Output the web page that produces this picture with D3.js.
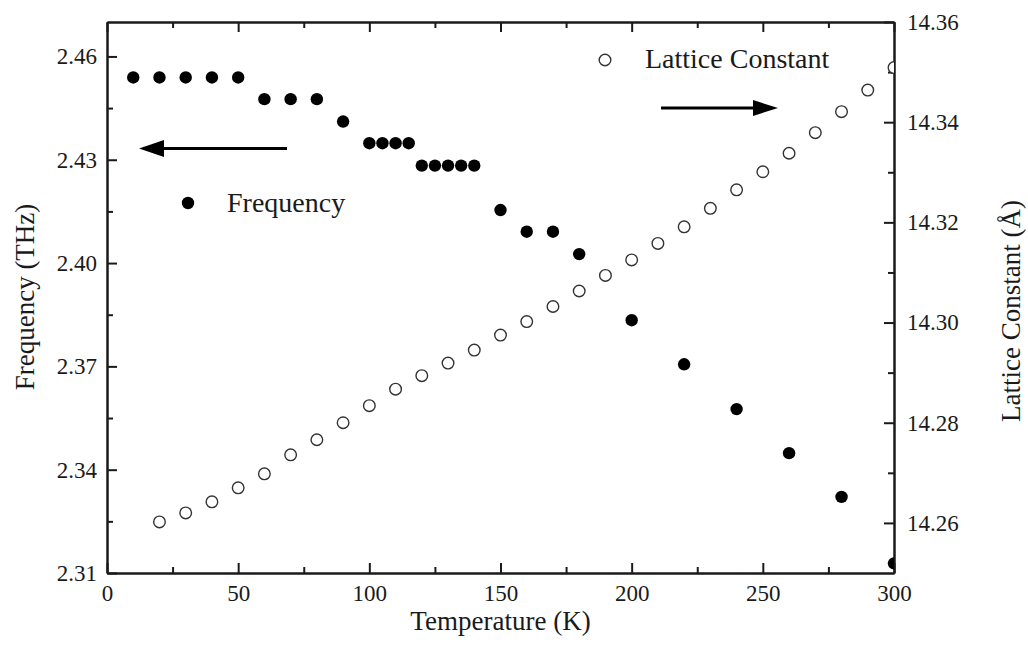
<!DOCTYPE html>
<html>
<head>
<meta charset="utf-8">
<script src="https://cdn.jsdelivr.net/npm/d3@7"></script>
<style>
  html, body { margin: 0; padding: 0; background: #fff; }
  svg text { font-family: "Liberation Serif", "Times New Roman", serif !important; fill: #1a1a1a; }
</style>
</head>
<body>
<svg id="chart" width="1028" height="645"></svg>
<script>
// ---- Data ----
const freqTemps = [10, 20, 30, 40, 50, 60, 70, 80, 90, 100, 105, 110, 115, 120, 125, 130, 135, 140, 150, 160, 170, 180, 200, 220, 240, 260, 280, 300];
const freqValues = [2.4539, 2.4539, 2.4539, 2.4539, 2.4539, 2.4476, 2.4476, 2.4476, 2.4411, 2.4348, 2.4348, 2.4348, 2.4348, 2.4283, 2.4283, 2.4283, 2.4283, 2.4283, 2.4154, 2.4091, 2.4091, 2.4026, 2.3834, 2.3706, 2.3576, 2.3448, 2.3321, 2.3128];

const latticeTemps = [20, 30, 40, 50, 60, 70, 80, 90, 100, 110, 120, 130, 140, 150, 160, 170, 180, 190, 200, 210, 220, 230, 240, 250, 260, 270, 280, 290, 300];
const latticeValues = [14.2602, 14.2620, 14.2642, 14.2670, 14.2698, 14.2736, 14.2766, 14.2800, 14.2834, 14.2867, 14.2894, 14.2919, 14.2945, 14.2975, 14.3002, 14.3032, 14.3063, 14.3094, 14.3125, 14.3158, 14.3191, 14.3228, 14.3265, 14.3301, 14.3338, 14.3379, 14.3421, 14.3464, 14.3509];

const xMajorTicks = [0, 50, 100, 150, 200, 250, 300];
const xMinorTicks = [25, 75, 125, 175, 225, 275];
const yLeftMajorTicks = [2.31, 2.34, 2.37, 2.40, 2.43, 2.46];
const yLeftMinorTicks = [2.325, 2.355, 2.385, 2.415, 2.445];
const yRightMajorTicks = [14.26, 14.28, 14.30, 14.32, 14.34, 14.36];
const yRightMinorTicks = [14.27, 14.29, 14.31, 14.33, 14.35];

const xTitle = "Temperature (K)";
const yLeftTitle = "Frequency (THz)";
const yRightTitle = "Lattice Constant (Å)";
const freqLegend = "Frequency";
const latticeLegend = "Lattice Constant";

// ---- Layout ----
const plot = { left: 107, right: 894, top: 22, bottom: 573 };
const ink = "#1a1a1a";
const serif = '"Liberation Serif", "Times New Roman", serif';

const svg = d3.select("#chart");

const x = d3.scaleLinear().domain([0, 300]).range([plot.left, plot.right]);
const yL = d3.scaleLinear().domain([2.31, 2.47]).range([plot.bottom, plot.top]);
const yR = d3.scaleLinear().domain([14.25, 14.36]).range([plot.bottom, plot.top]);

const MAJ = 10, MIN = 6;

function styleAxis(g) {
  g.attr("font-family", serif).attr("font-size", 23);
  g.selectAll("path.domain").attr("stroke", ink).attr("stroke-width", 2);
  g.selectAll(".tick line").attr("stroke", ink).attr("stroke-width", 2);
  g.selectAll(".tick text").attr("font-size", 23).attr("fill", ink).attr("font-family", serif);
}

// Bottom axis
svg.append("g").attr("transform", `translate(0,${plot.bottom})`)
  .call(d3.axisBottom(x).tickValues(xMinorTicks).tickSizeInner(-MIN).tickSizeOuter(0).tickFormat(""))
  .call(styleAxis);
svg.append("g").attr("transform", `translate(0,${plot.bottom})`)
  .call(d3.axisBottom(x).tickValues(xMajorTicks).tickSizeInner(-MAJ).tickSizeOuter(0).tickPadding(12).tickFormat(d3.format("d")))
  .call(styleAxis);

// Top axis
svg.append("g").attr("transform", `translate(0,${plot.top})`)
  .call(d3.axisTop(x).tickValues(xMinorTicks).tickSizeInner(-MIN).tickSizeOuter(0).tickFormat(""))
  .call(styleAxis);
svg.append("g").attr("transform", `translate(0,${plot.top})`)
  .call(d3.axisTop(x).tickValues(xMajorTicks).tickSizeInner(-MAJ).tickSizeOuter(0).tickFormat(""))
  .call(styleAxis);

// Left axis
svg.append("g").attr("transform", `translate(${plot.left},0)`)
  .call(d3.axisLeft(yL).tickValues(yLeftMinorTicks).tickSizeInner(-MIN).tickSizeOuter(0).tickFormat(""))
  .call(styleAxis);
svg.append("g").attr("transform", `translate(${plot.left},0)`)
  .call(d3.axisLeft(yL).tickValues(yLeftMajorTicks).tickSizeInner(-MAJ).tickSizeOuter(0).tickPadding(10).tickFormat(d3.format(".2f")))
  .call(styleAxis);

// Right axis
svg.append("g").attr("transform", `translate(${plot.right},0)`)
  .call(d3.axisRight(yR).tickValues(yRightMinorTicks).tickSizeInner(-MIN).tickSizeOuter(0).tickFormat(""))
  .call(styleAxis);
svg.append("g").attr("transform", `translate(${plot.right},0)`)
  .call(d3.axisRight(yR).tickValues(yRightMajorTicks).tickSizeInner(-MAJ).tickSizeOuter(0).tickPadding(13).tickFormat(d3.format(".2f")))
  .call(styleAxis);

// Clip for data
svg.append("clipPath").attr("id", "plotClip")
  .append("rect")
  .attr("x", plot.left).attr("y", plot.top)
  .attr("width", plot.right - plot.left).attr("height", plot.bottom - plot.top);

const dataG = svg.append("g").attr("clip-path", "url(#plotClip)");

// Lattice constant (open circles)
dataG.append("g").selectAll("circle")
  .data(latticeTemps.map((t, i) => [t, latticeValues[i]]))
  .join("circle")
  .attr("cx", d => x(d[0]))
  .attr("cy", d => yR(d[1]))
  .attr("r", 5.8)
  .attr("fill", "#fff")
  .attr("stroke", "#333")
  .attr("stroke-width", 1.4);

// Frequency (filled circles)
dataG.append("g").selectAll("circle")
  .data(freqTemps.map((t, i) => [t, freqValues[i]]))
  .join("circle")
  .attr("cx", d => x(d[0]))
  .attr("cy", d => yL(d[1]))
  .attr("r", 6.2)
  .attr("fill", "#000");

// Legend: Frequency
svg.append("circle").attr("cx", 188).attr("cy", 203).attr("r", 6.2).attr("fill", "#000");
svg.append("text").attr("x", 227).attr("y", 212).attr("font-size", 28).attr("font-family", serif).text(freqLegend);

// Legend: Lattice Constant
svg.append("circle").attr("cx", 605).attr("cy", 60).attr("r", 5.8)
  .attr("fill", "#fff").attr("stroke", "#333").attr("stroke-width", 1.4);
svg.append("text").attr("x", 645).attr("y", 68).attr("font-size", 28).attr("font-family", serif).text(latticeLegend);

// Arrows
svg.append("line").attr("x1", 287).attr("y1", 148.5).attr("x2", 160).attr("y2", 148.5)
  .attr("stroke", "#000").attr("stroke-width", 3);
svg.append("path").attr("d", "M139,148.5 L164,140 L164,157 Z").attr("fill", "#000");
svg.append("line").attr("x1", 661).attr("y1", 108).attr("x2", 758).attr("y2", 108)
  .attr("stroke", "#000").attr("stroke-width", 3);
svg.append("path").attr("d", "M778,108 L753,100 L753,116 Z").attr("fill", "#000");

// Axis titles
svg.append("text")
  .attr("x", (plot.left + plot.right) / 2).attr("y", 630)
  .attr("text-anchor", "middle").attr("font-size", 27).attr("font-family", serif).text(xTitle);

svg.append("text")
  .attr("transform", `translate(34,297) rotate(-90)`)
  .attr("text-anchor", "middle").attr("font-size", 27).attr("font-family", serif).text(yLeftTitle);

svg.append("text")
  .attr("transform", `translate(1020,311) rotate(-90)`)
  .attr("text-anchor", "middle").attr("font-size", 27).attr("font-family", serif).text(yRightTitle);
</script>
</body>
</html>
